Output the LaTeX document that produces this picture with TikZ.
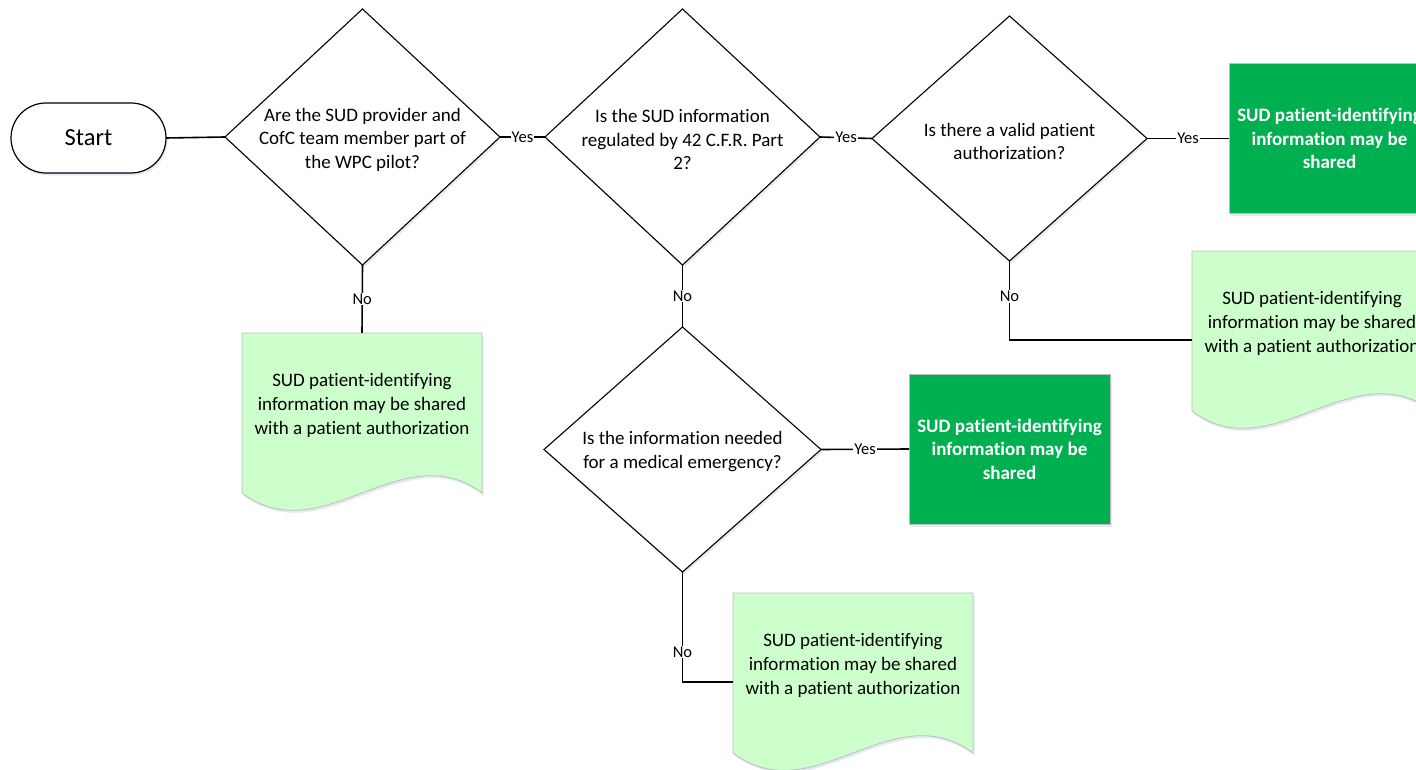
\documentclass[tikz,border=0pt]{standalone}
\usepackage{fontspec}
\setmainfont{Carlito}[Ligatures=NoCommon]
\usetikzlibrary{shapes.geometric,calc,shadows}
\definecolor{dkgreen}{RGB}{0,176,80}
\definecolor{ltgreen}{RGB}{204,255,204}
\definecolor{edgegray}{RGB}{190,190,190}
\definecolor{shadowc}{RGB}{140,160,200}
\newcommand\docshape[1]{\path[docsty] (#1.north west) -- (#1.north east) -- ($(#1.north east)+(0,160)$) .. controls ($(#1.north east)+(-80,100)$) and ($(#1.north west)+(80,220)$) .. ($(#1.north west)+(0,160)$) -- cycle;}
\begin{document}
\begin{tikzpicture}[x=1pt,y=-1pt,
  shad/.style={drop shadow={shadow xshift=1.5pt,shadow yshift=-2.5pt,opacity=0.22,fill=shadowc}},
  dia/.style={diamond,draw=black,line width=1.1pt,fill=white,inner sep=0pt,outer sep=0pt,shad},
  qtext/.style={align=center,font=\fontsize{19}{23.5}\selectfont,inner sep=0pt},
  startbox/.style={draw=black,line width=1.2pt,fill=white,rounded corners=35pt,minimum width=155pt,minimum height=70pt,inner sep=0pt,outer sep=0pt,font=\fontsize{24.5}{28}\selectfont,shad},
  greenbox/.style={draw=edgegray,line width=0.8pt,fill=dkgreen,text=white,minimum width=201pt,minimum height=150pt,inner sep=0pt,outer sep=0pt,align=center,font=\fontsize{19}{23.5}\selectfont\bfseries,shad},
  docbox/.style={rectangle,minimum width=240pt,minimum height=178pt,inner sep=0pt,outer sep=0pt},
  docsty/.style={draw=edgegray,line width=0.8pt,fill=ltgreen,shad},
  doctext/.style={align=center,font=\fontsize{19}{24}\selectfont,inner sep=0pt},
  conn/.style={draw=black,line width=1.6pt},
  lbl/.style={fill=white,inner sep=1pt,font=\fontsize{16.5}{18}\selectfont}
]
\clip (0,0) rectangle (1416,770);
\fill[white] (0,0) rectangle (1416,770);

% docs (drawn first)
\node[docbox] (d1) at (362,422) {};
\node[docbox] (d2) at (1312,340) {};
\node[docbox] (d3) at (853,682) {};
\docshape{d1}
\docshape{d2}
\docshape{d3}
\node[doctext] (d1t) at ($(d1.center)+(0,-17)$) {SUD patient-identifying\\information may be shared\\with a patient authorization};
\node[doctext] (d2t) at ($(d2.center)+(0,-17)$) {SUD patient-identifying\\information may be shared\\with a patient authorization};
\node[doctext] (d3t) at ($(d3.center)+(0,-17)$) {SUD patient-identifying\\information may be shared\\with a patient authorization};

% start
\node[startbox] (st) at (88.5,138) {Start};

% diamonds
\node[dia,minimum width=275pt,minimum height=256pt] (q1) at (362.5,137) {};
\node[qtext] (q1t) at ($(q1.center)+(0,2.5)$) {Are the SUD provider and\\CofC team member part of\\the WPC pilot?};
\node[dia,minimum width=275pt,minimum height=256pt] (q2) at (682.5,137) {};
\node[qtext] (q2t) at ($(q2.center)+(0,2.5)$) {Is the SUD information\\regulated by 42 C.F.R. Part\\2?};
\node[dia,minimum width=275pt,minimum height=245pt] (q3) at (1009.5,138.5) {};
\node[qtext] (q3t) at ($(q3.center)+(0,3)$) {Is there a valid patient\\authorization?};
\node[dia,minimum width=277pt,minimum height=245pt] (q4) at (682.5,449.5) {};
\node[qtext] (q4t) at ($(q4.center)+(0,2)$) {Is the information needed\\for a medical emergency?};

% green boxes
\node[greenbox] (g1) at (1329.5,138.5) {SUD patient-identifying\\information may be\\shared};
\node[greenbox] (g2) at (1009.5,449) {SUD patient-identifying\\information may be\\shared};

% connectors
\draw[conn] (st.east) -- (q1.west);
\draw[conn] (q1.east) -- node[lbl] (y1) {Yes} (q2.west);
\draw[conn] (q2.east) -- node[lbl] (y2) {Yes} (q3.west);
\draw[conn] (q3.east) -- node[lbl] (y3) {Yes} (g1.west);
\draw[conn] (q4.east) -- node[lbl] (y4) {Yes} (g2.west);
\draw[conn] (q1.south) -- node[lbl] (n1) {No} (d1.north);
\draw[conn] (q2.south) -- node[lbl] (n2) {No} (q4.north);
\draw[conn] (q3.south) |- node[lbl,pos=0.224] (n3) {No} (d2.west);
\draw[conn] (q4.south) |- node[lbl,pos=0.364] (n4) {No} (d3.west);
\end{tikzpicture}
\end{document}
